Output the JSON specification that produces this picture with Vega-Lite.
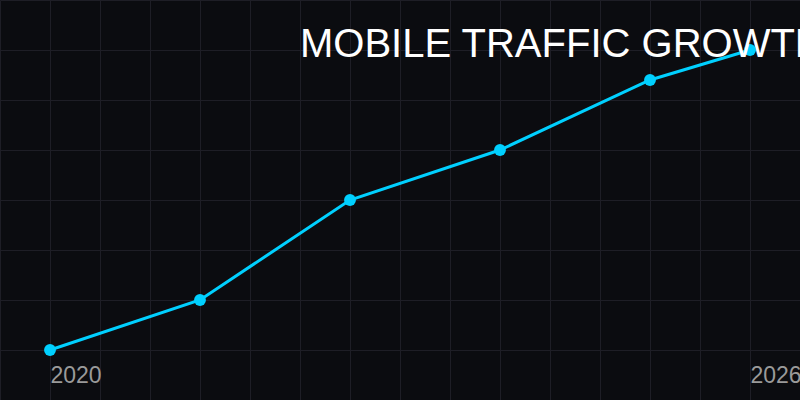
{
  "$schema": "https://vega.github.io/schema/vega-lite/v6.json",
  "width": 800,
  "height": 400,
  "autosize": {"type": "none"},
  "padding": 0,
  "background": "#0b0c10",
  "title": {
    "text": "MOBILE TRAFFIC GROWTH",
    "anchor": "start",
    "frame": "group",
    "dx": 300,
    "offset": -97,
    "baseline": "alphabetic",
    "font": "Liberation Sans",
    "fontSize": 40,
    "fontWeight": "normal",
    "color": "#ffffff"
  },
  "data": {
    "values": [
      {"step": 1, "year": "2020", "traffic": 10},
      {"step": 4, "year": "", "traffic": 20},
      {"step": 7, "year": "", "traffic": 40},
      {"step": 10, "year": "", "traffic": 50},
      {"step": 13, "year": "", "traffic": 64},
      {"step": 15, "year": "2026", "traffic": 70}
    ]
  },
  "encoding": {
    "x": {
      "field": "step",
      "type": "quantitative",
      "scale": {"domain": [0, 16], "nice": false, "zero": false},
      "axis": {
        "values": [0, 1, 2, 3, 4, 5, 6, 7, 8, 9, 10, 11, 12, 13, 14, 15, 16],
        "labelExpr": "datum.value == 1 ? '2020' : datum.value == 15 ? '2026' : ''",
        "title": null,
        "domain": false,
        "ticks": false,
        "grid": true,
        "gridColor": "#1e1e26",
        "gridWidth": 1,
        "labelAlign": "left",
        "labelBaseline": "alphabetic",
        "labelPadding": -18,
        "labelFont": "Liberation Sans",
        "labelFontSize": 23,
        "labelColor": "#9a9a9a",
        "labelOverlap": false,
        "labelFlush": false
      }
    },
    "y": {
      "field": "traffic",
      "type": "quantitative",
      "scale": {"domain": [0, 80], "nice": false},
      "axis": {
        "values": [0, 10, 20, 30, 40, 50, 60, 70, 80],
        "title": null,
        "labels": false,
        "domain": false,
        "ticks": false,
        "grid": true,
        "gridColor": "#1e1e26",
        "gridWidth": 1
      }
    }
  },
  "layer": [
    {"mark": {"type": "line", "color": "#00d0ff", "strokeWidth": 3}},
    {"mark": {"type": "point", "filled": true, "color": "#00d0ff", "size": 140, "opacity": 1}}
  ],
  "config": {"view": {"stroke": null}}
}
